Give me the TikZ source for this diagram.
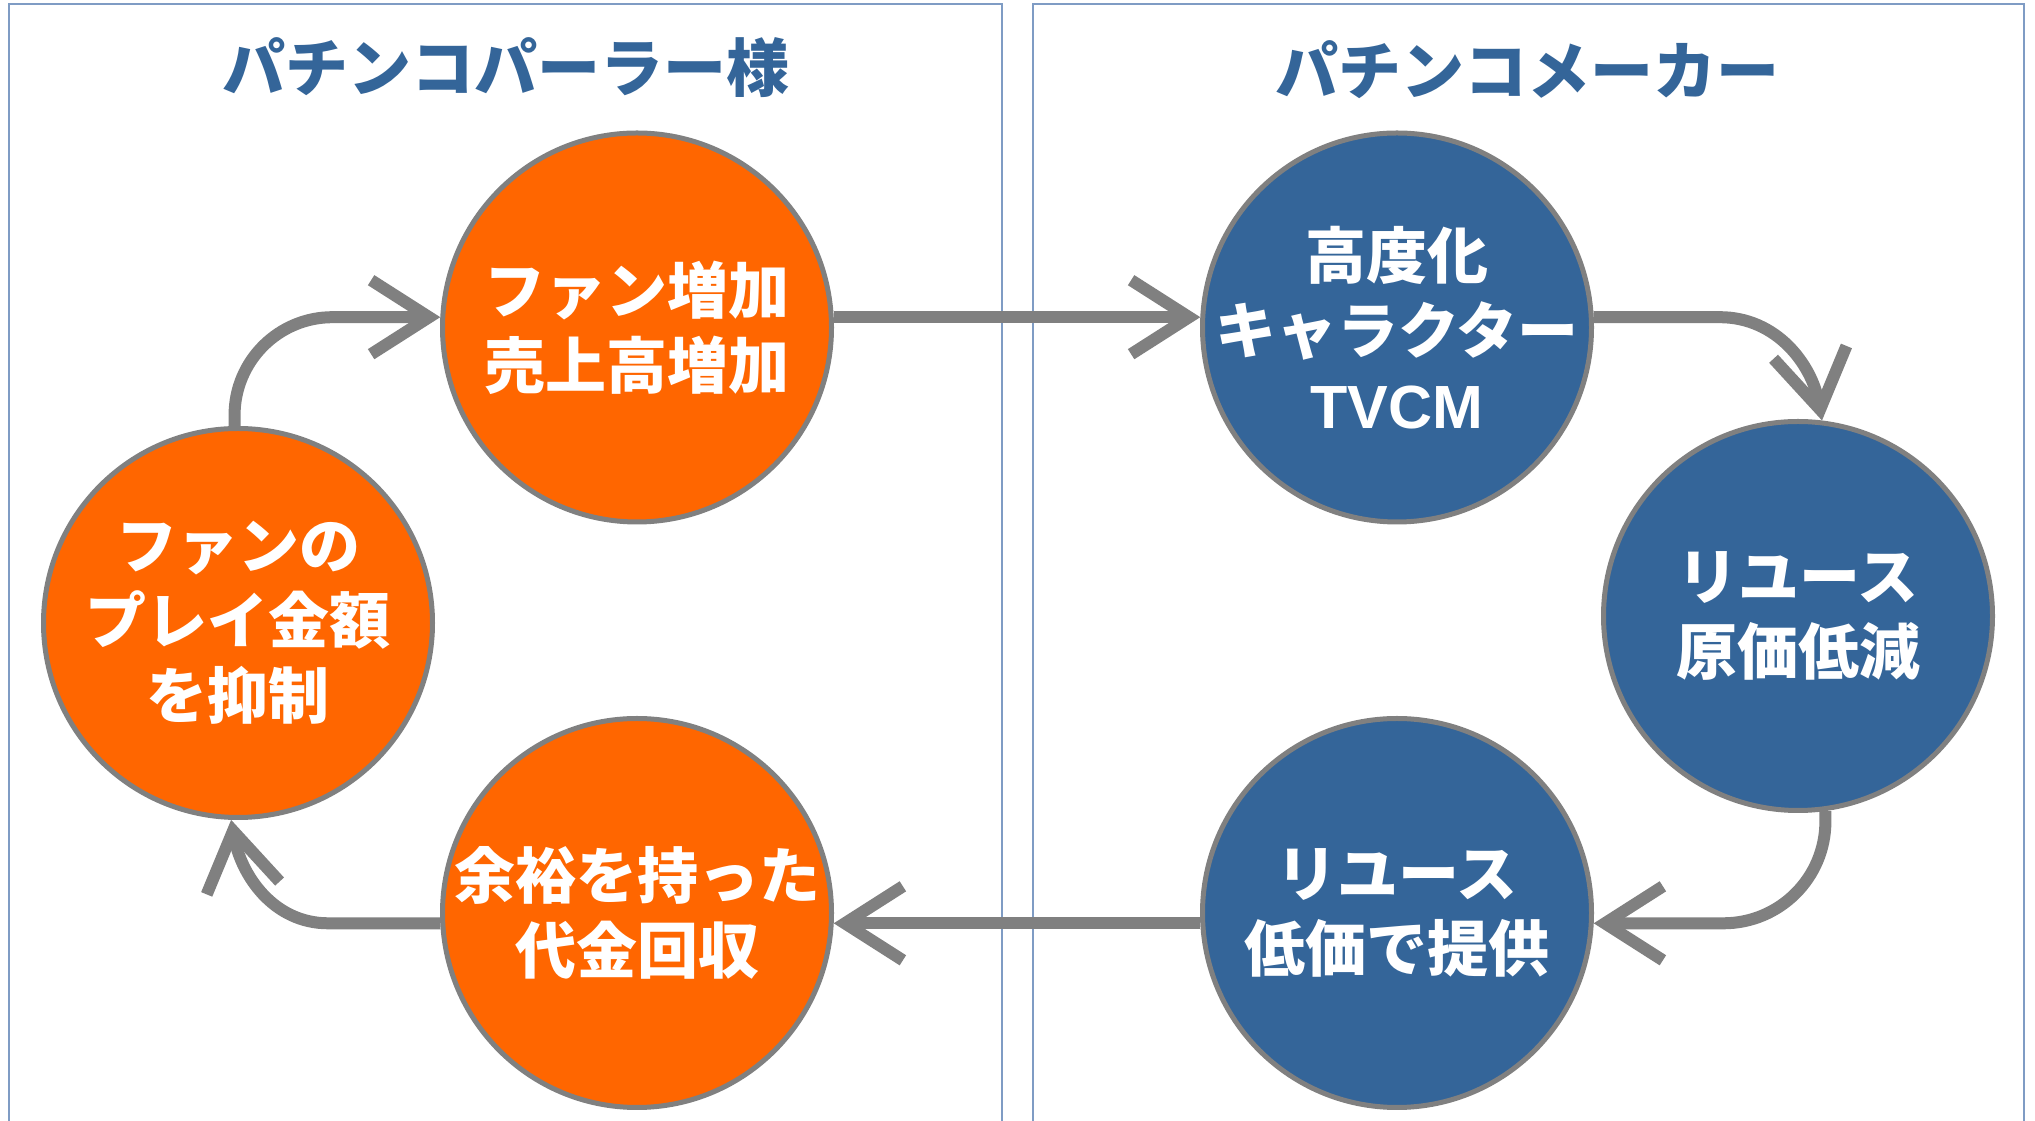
\documentclass[tikz,border=0pt]{standalone}
\usepackage{fontspec}
\newfontfamily\jpfont{Noto Sans CJK JP}[BoldFont={Noto Sans CJK JP Black}]
\newfontfamily\latfont{Liberation Sans}
\usetikzlibrary{arrows.meta}
\definecolor{orangefill}{HTML}{FF6600}
\definecolor{bluefill}{HTML}{346599}
\definecolor{rimgray}{HTML}{808080}
\definecolor{framecol}{HTML}{7F9CC4}
\begin{document}
\begin{tikzpicture}[x=1pt,y=1pt,
 bubble/.style={circle, draw=rimgray, line width=5pt, minimum size=389pt, inner sep=0pt},
 bubbletext/.style={text=white, align=center, inner sep=0pt, font=\jpfont\bfseries\fontsize{61}{75}\selectfont},
 orangebubble/.style={bubble, fill=orangefill},
 bluebubble/.style={bubble, fill=bluefill},
 conn/.style={draw=rimgray, line width=12pt, -{Straight Barb[length=58pt,width=74pt,line cap=butt,line join=miter]}},
 paneltitle/.style={text=bluefill, font=\jpfont\bfseries\fontsize{63}{75}\selectfont, inner sep=0pt},
 panel/.style={draw=framecol, line width=1.5pt}]
\useasboundingbox (0,0) rectangle (2035,1121);
\clip (0,0) rectangle (2035,1121);
\fill[white] (0,0) rectangle (2035,1121);
\draw[panel] (9,-20) rectangle (1002,1117);
\draw[panel] (1033,-20) rectangle (2024,1117);
\node[paneltitle] (t1) at (506,1053) {パチンコパーラー様};
\node[paneltitle] (t2) at (1527,1051) {パチンコメーカー};
\node[orangebubble, label={[bubbletext]center:ファン増加\\売上高増加}] (c1) at (637,793.5) {};
\node[orangebubble, label={[bubbletext]center:ファンの\\プレイ金額\\を抑制}] (c2) at (238,498) {};
\node[orangebubble, label={[bubbletext]center:余裕を持った\\代金回収}] (c3) at (637,208) {};
\node[bluebubble, label={[bubbletext]center:高度化\\キャラクター\\{\latfont\bfseries TVCM}}] (c4) at (1397,793.5) {};
\node[bluebubble, label={[bubbletext]center:リユース\\原価低減}] (c5) at (1798,505) {};
\node[bluebubble, label={[bubbletext]center:リユース\\低価で提供}] (c6) at (1397,208) {};
\draw[conn, rounded corners=98pt] (c2.91) |- (c1.177);
\draw[conn] (c1.3) -- (c4.177);
\draw[conn] (c4.3) -- ++(126,0) to[out=0,in=100] (c5.83);
\draw[conn, rounded corners=102pt] (c5.-82) |- (c6.-3);
\draw[conn] (c6.183) -- (c3.-3);
\draw[conn] (c3.183) -- ++(-112,0) to[out=180,in=-80] (c2.-92);
\end{tikzpicture}
\end{document}
